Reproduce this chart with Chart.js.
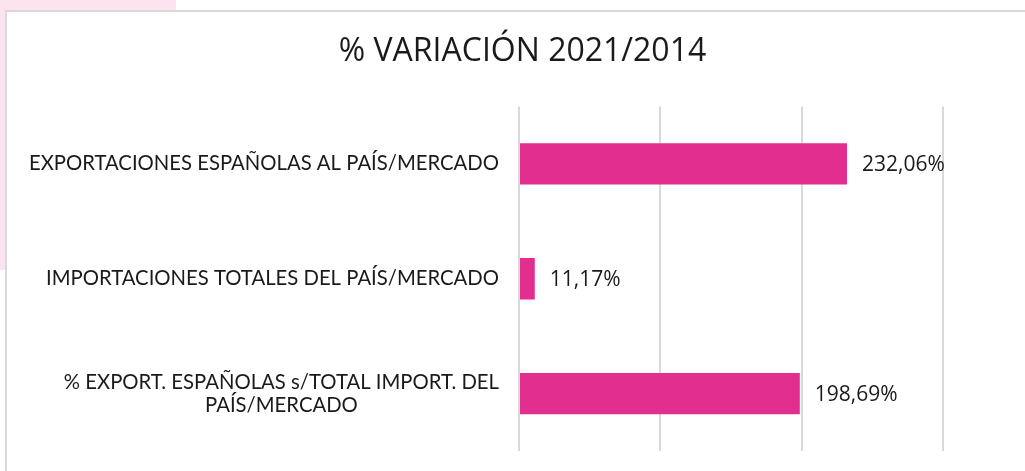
<!DOCTYPE html>
<html>
<head>
<meta charset="utf-8">
<script src="https://cdn.jsdelivr.net/npm/chart.js@4.4.1/dist/chart.umd.min.js"></script>
<style>
html,body{margin:0;padding:0;background:#fff;}
canvas{display:block;}
</style>
</head>
<body>
<canvas id="c" width="1025" height="471"></canvas>
<script>
const title = "% VARIACIÓN 2021/2014";
const categories = [
  ["EXPORTACIONES ESPAÑOLAS AL PAÍS/MERCADO"],
  ["IMPORTACIONES TOTALES DEL PAÍS/MERCADO"],
  ["% EXPORT. ESPAÑOLAS s/TOTAL IMPORT. DEL", "PAÍS/MERCADO"]
];
const values = [232.06, 11.17, 198.69];
const xTicks = [0, 100, 200, 300];

const BAR = '#E22E8F';
const LABEL_FONT = '20.3px Lato';
const VALUE_FONT = '21px "Open Sans"';

const framePlugin = {
  id: 'frame',
  beforeDraw(chart) {
    const ctx = chart.ctx;
    ctx.save();
    ctx.fillStyle = '#fff';
    ctx.fillRect(0, 0, chart.width, chart.height);
    ctx.fillStyle = '#FBE4EF';
    ctx.fillRect(0, 0, 176, 10);
    ctx.fillRect(0, 0, 5, 270);
    ctx.strokeStyle = '#D9D9D9';
    ctx.lineWidth = 2;
    ctx.beginPath();
    ctx.moveTo(6, chart.height + 5);
    ctx.lineTo(6, 11);
    ctx.lineTo(chart.width + 5, 11);
    ctx.stroke();
    ctx.restore();
  },
  afterDraw(chart) {
    const ctx = chart.ctx;
    const y = chart.scales.y;
    const x = chart.scales.x;
    const meta = chart.getDatasetMeta(0);
    ctx.save();
    ctx.fillStyle = '#1a1a1a';
    ctx.font = LABEL_FONT;
    ctx.textBaseline = 'middle';
    const right = chart.chartArea.left - 20;
    const lh = 23;
    categories.forEach((lines, i) => {
      const cy = y.getPixelForTick(i);
      const w = Math.max(...lines.map(l => ctx.measureText(l).width));
      const cx = right - w / 2;
      ctx.textAlign = 'center';
      lines.forEach((l, j) => {
        ctx.fillText(l, cx, cy + (j - (lines.length - 1) / 2) * lh);
      });
    });
    ctx.font = VALUE_FONT;
    ctx.textAlign = 'left';
    values.forEach((v, i) => {
      const bar = meta.data[i];
      const txt = v.toFixed(2).replace('.', ',') + '%';
      ctx.fillText(txt, x.getPixelForValue(v) + 15, bar.y + 1);
    });
    ctx.restore();
  }
};

new Chart(document.getElementById('c'), {
  type: 'bar',
  data: {
    labels: categories,
    datasets: [{
      data: values,
      backgroundColor: BAR,
      borderWidth: 0,
      barPercentage: 0.36,
      categoryPercentage: 1
    }]
  },
  options: {
    indexAxis: 'y',
    responsive: false,
    animation: false,
    devicePixelRatio: 1,
    layout: { padding: { left: 102, right: 82, top: 33, bottom: 20 } },
    plugins: {
      legend: { display: false },
      tooltip: { enabled: false },
      title: {
        display: true,
        text: title,
        color: '#1a1a1a',
        font: { family: 'Open Sans', size: 32, weight: 'normal' },
        padding: { top: 0, bottom: 35 }
      }
    },
    scales: {
      x: {
        min: xTicks[0],
        max: xTicks[xTicks.length - 1],
        afterBuildTicks(scale) { scale.ticks = xTicks.map(v => ({ value: v })); },
        ticks: { display: false },
        grid: { color: '#D9D9D9', lineWidth: 2, drawTicks: false },
        border: { display: false }
      },
      y: {
        ticks: { display: false },
        grid: { display: false, drawTicks: false },
        border: { display: false },
        afterFit(scale) { scale.width = 417; }
      }
    }
  },
  plugins: [framePlugin]
});
</script>
</body>
</html>
